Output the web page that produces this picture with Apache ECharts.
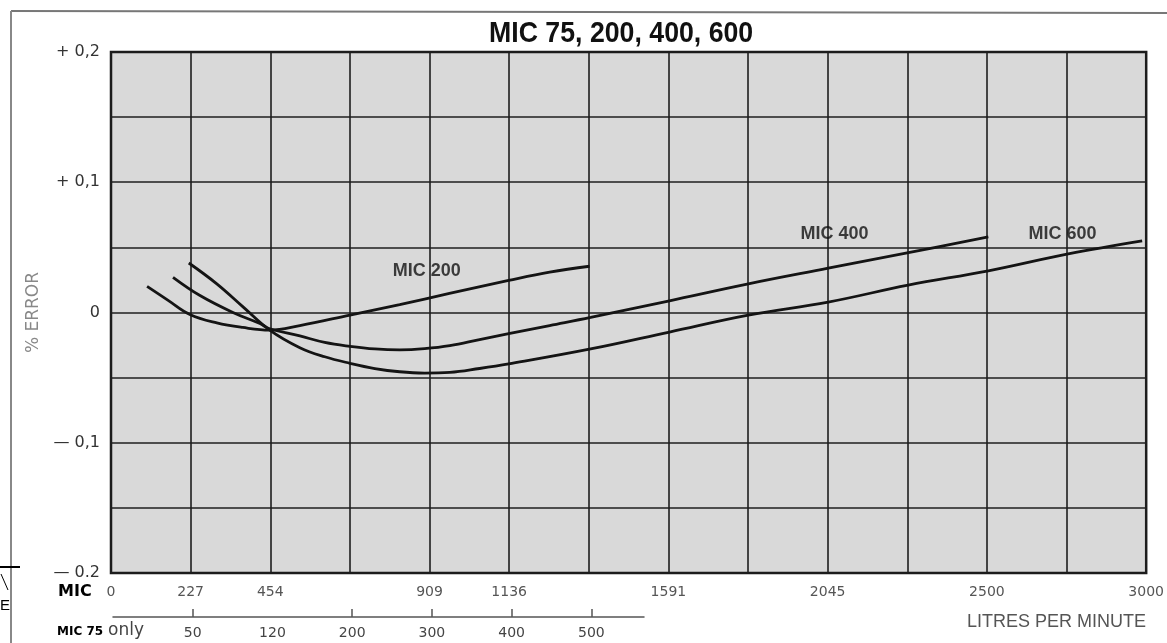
<!DOCTYPE html>
<html>
<head>
<meta charset="utf-8">
<script src="https://cdn.jsdelivr.net/npm/echarts@6/dist/echarts.min.js"></script>
<style>
html,body{margin:0;padding:0;background:#fff;}
#c{width:1167px;height:643px;}
</style>
</head>
<body>
<div id="c"></div>
<script>
// ---- data (x in litres per minute, y in % error) ----
const mic200 = [[103,0.020],[162,0.0095],[225,-0.0015],[302,-0.008],[376,-0.0115],[453,-0.0135],[539,-0.010],[682,-0.002],[824,0.006],[966,0.0146],[1135,0.0246],[1252,0.031],[1366,0.0355]];
const mic400 = [[177,0.027],[254,0.013],[348,0.000],[425,-0.0085],[453,-0.0125],[539,-0.018],[610,-0.023],[682,-0.026],[753,-0.028],[824,-0.0287],[895,-0.0278],[967,-0.0255],[1052,-0.0208],[1135,-0.0162],[1252,-0.010],[1369,-0.0038],[1594,0.009],[1819,0.022],[2047,0.034],[2276,0.046],[2504,0.058]];
const mic600 = [[222,0.038],[302,0.022],[376,0.0045],[453,-0.0135],[539,-0.027],[610,-0.034],[682,-0.039],[753,-0.043],[824,-0.0455],[895,-0.0465],[967,-0.046],[1052,-0.043],[1135,-0.0395],[1369,-0.028],[1594,-0.015],[1819,-0.002],[2047,0.008],[2275,0.021],[2504,0.032],[2732,0.045],[2943,0.055]];
const curveLabels = [
  {name:'MIC 200', value:[901,0.032]},
  {name:'MIC 400', value:[2065,0.060]},
  {name:'MIC 600', value:[2716,0.060]}
];
const colWidth = 227.27;            // litres per grid column
const xTickLabels = ['0','227','454','','909','1136','','1591','','2045','','2500','','3000'];
const yTickValues = [0.2, 0.1, 0, -0.1, -0.2];
const yTickLabels = ['+ 0,2','+ 0,1','0','\u2014 0,1','\u2014 0.2'];
const mic75TickCols = [1,3,4,5,6];
const mic75LabelCols = [1,2,3,4,5,6];
const mic75Labels = ['50','120','200','300','400','500'];

const chart = echarts.init(document.getElementById('c'));
const grid = '#1e1e1e';
const lineStyle = {color:'#141414', width:2.8};
const lib = "'Liberation Sans', Arial, sans-serif";
const dv = "'DejaVu Sans', sans-serif";

chart.setOption({
  backgroundColor:'#ffffff',
  animation:false,
  grid:[
    {left:111, top:52, width:1036, height:521, show:true, backgroundColor:'#d9d9d9', borderColor:'#1a1a1a', borderWidth:2.5},
    {left:113, top:616, width:531, height:1}
  ],
  xAxis:[
    {
      type:'value', gridIndex:0, min:0, max:colWidth*13, interval:colWidth,
      axisLine:{show:false}, axisTick:{show:false},
      splitLine:{show:true, lineStyle:{color:grid, width:1.6}},
      axisLabel:{
        margin:12, color:'#555', fontFamily:dv, fontSize:14,
        showMinLabel:true, showMaxLabel:true,
        formatter:function(v){ return xTickLabels[Math.round(v/colWidth)] || ''; }
      }
    },
    {
      type:'value', gridIndex:1, min:0, max:6.66,
      axisLine:{show:true, lineStyle:{color:'#555', width:1.5}},
      axisTick:{show:true, inside:true, length:8, customValues:mic75TickCols, lineStyle:{color:'#555', width:1.5}},
      splitLine:{show:false},
      axisLabel:{
        margin:9, color:'#444', fontFamily:dv, fontSize:14,
        customValues:mic75LabelCols,
        formatter:function(v){ return mic75Labels[Math.round(v)-1] || ''; }
      }
    }
  ],
  yAxis:[
    {
      type:'value', gridIndex:0, min:-0.2, max:0.2, interval:0.05,
      axisLine:{show:false}, axisTick:{show:false},
      splitLine:{show:true, lineStyle:{color:grid, width:1.6}},
      name:'% ERROR', nameLocation:'middle', nameRotate:90, nameGap:64,
      nameTextStyle:{color:'#888', fontFamily:dv, fontSize:17},
      axisLabel:{
        margin:11, color:'#333', fontFamily:dv, fontSize:16,
        formatter:function(v){
          for (let i=0;i<yTickValues.length;i++){ if (Math.abs(v-yTickValues[i])<1e-6) return yTickLabels[i]; }
          return '';
        }
      }
    },
    {type:'value', gridIndex:1, show:false, min:0, max:1}
  ],
  series:[
    {name:'MIC 200', type:'line', xAxisIndex:0, yAxisIndex:0, data:mic200, smooth:0.4, showSymbol:false, lineStyle:lineStyle},
    {name:'MIC 400', type:'line', xAxisIndex:0, yAxisIndex:0, data:mic400, smooth:0.4, showSymbol:false, lineStyle:lineStyle},
    {name:'MIC 600', type:'line', xAxisIndex:0, yAxisIndex:0, data:mic600, smooth:0.4, showSymbol:false, lineStyle:lineStyle},
    {name:'labels', type:'scatter', xAxisIndex:0, yAxisIndex:0, data:curveLabels, symbolSize:1,
     itemStyle:{color:'rgba(0,0,0,0)'},
     label:{show:true, position:'inside', formatter:'{b}', color:'#111', fontFamily:lib, fontWeight:'bold', fontSize:18}}
  ],
  graphic:[
    {type:'text', x:489, y:19, scaleX:0.89, style:{text:'MIC 75, 200, 400, 600', fill:'#111', font:"bold 30px 'Liberation Sans', Arial, sans-serif"}},
    {type:'line', shape:{x1:11, y1:11, x2:1167, y2:13}, style:{stroke:'#777', lineWidth:2}},
    {type:'line', shape:{x1:11, y1:11, x2:11, y2:643}, style:{stroke:'#888', lineWidth:2}},
    {type:'line', shape:{x1:0, y1:567, x2:20, y2:567}, style:{stroke:'#000', lineWidth:2}},
    {type:'line', shape:{x1:1, y1:574, x2:8, y2:590}, style:{stroke:'#000', lineWidth:1}},
    {type:'text', x:0, y:598, style:{text:'E', fill:'#000', font:"15px 'Liberation Sans', sans-serif"}},
    {type:'text', x:58, y:584, style:{text:'MIC', fill:'#000', font:"bold 16px 'DejaVu Sans', sans-serif"}},
    {type:'text', x:57, y:626, style:{text:'MIC 75', fill:'#000', font:"bold 12px 'DejaVu Sans', sans-serif"}},
    {type:'text', x:108, y:622, style:{text:'only', fill:'#444', font:"17px 'DejaVu Sans', sans-serif"}},
    {type:'text', x:1146, y:613, style:{text:'LITRES PER MINUTE', fill:'#555', textAlign:'right', font:"18px 'Liberation Sans', sans-serif"}}
  ]
});
</script>
</body>
</html>
